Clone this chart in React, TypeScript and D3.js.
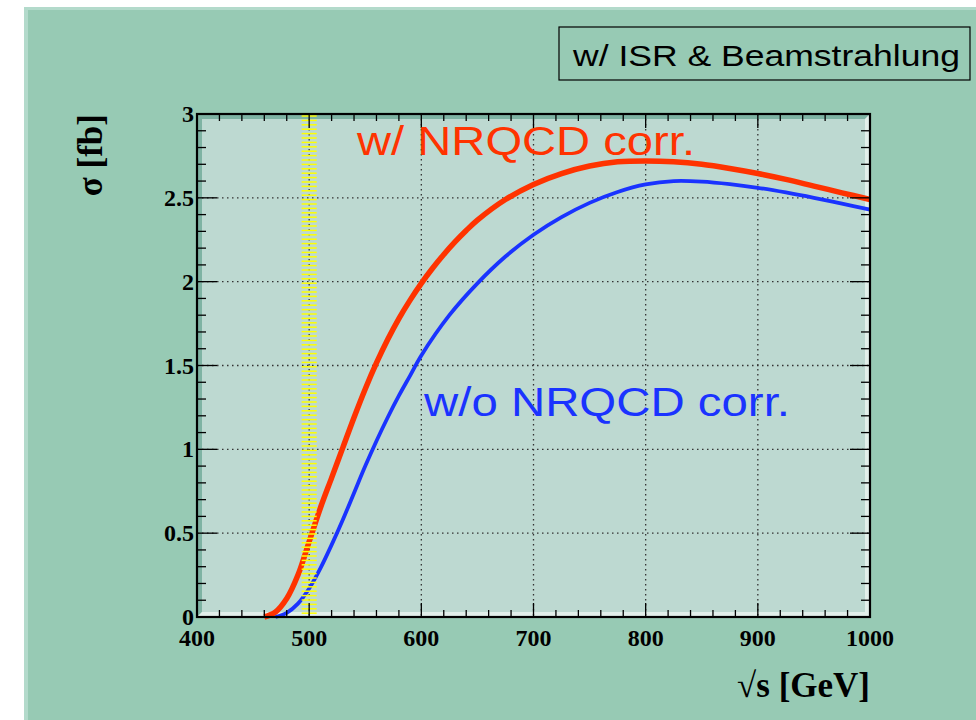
import React from "react";
import * as d3 from "d3";

const redE = [460, 470, 480, 490, 500, 510, 520, 530, 540, 550, 560, 570, 580, 590, 600, 610, 620, 630, 640, 650, 675, 700, 725, 750, 775, 800, 825, 850, 875, 900, 925, 950, 975, 1000];
const redSigma = [0, 0.03, 0.11, 0.25, 0.45, 0.65, 0.83, 1.01, 1.19, 1.36, 1.515, 1.655, 1.78, 1.89, 1.99, 2.08, 2.162, 2.237, 2.305, 2.367, 2.49, 2.58, 2.645, 2.69, 2.715, 2.72, 2.715, 2.7, 2.675, 2.645, 2.61, 2.57, 2.53, 2.49];
const blueE = [470, 480, 490, 500, 510, 520, 530, 540, 550, 560, 570, 580, 590, 600, 625, 650, 675, 700, 725, 750, 775, 800, 825, 850, 875, 900, 925, 950, 975, 1000];
const blueSigma = [0, 0.025, 0.08, 0.17, 0.29, 0.43, 0.58, 0.74, 0.9, 1.05, 1.19, 1.32, 1.44, 1.56, 1.8, 1.99, 2.15, 2.28, 2.385, 2.47, 2.535, 2.58, 2.6, 2.597, 2.582, 2.56, 2.532, 2.5, 2.465, 2.43];
const xMajor = [400, 500, 600, 700, 800, 900, 1000];
const yMajor = [0, 0.5, 1, 1.5, 2, 2.5, 3];
const yMajorLabels = ["0", "0.5", "1", "1.5", "2", "2.5", "3"];
const bandCenter = 500;
const bandHalfWidth = 6.7;

const L = 197, R = 870, T = 114, B = 617;

export default function App() {
  const x = d3.scaleLinear().domain([400, 1000]).range([L, R]);
  const y = d3.scaleLinear().domain([0, 3]).range([B, T]);
  const line = d3.line<[number, number]>().x(d => x(d[0])).y(d => y(d[1])).curve(d3.curveCatmullRom.alpha(0.5));
  const red = line(redE.map((e, i) => [e, redSigma[i]]));
  const blue = line(blueE.map((e, i) => [e, blueSigma[i]]));
  const xMinor = d3.range(400, 1001, 20);
  const yMinor = d3.range(0, 3.001, 0.1);
  const bandLines = d3.range(T + 2, B, 4.4);
  const serif = "'Liberation Serif', 'DejaVu Serif', serif";
  const sans = "'Liberation Sans', Arial, sans-serif";
  const bw = 5;
  return (
    <svg width={976} height={720} style={{ position: "absolute", left: 0, top: 0, background: "#fff" }}>
      <rect x={24} y={7} width={952} height={713} fill="#97cab4" />
      <rect x={24} y={7} width={4} height={713} fill="#b3dacb" />
      <rect x={24} y={7} width={952} height={3} fill="#b3dacb" />
      {/* frame */}
      <rect x={L} y={T} width={R - L} height={B - T} fill="#bdd9d1" />
      <polygon points={`${L},${T} ${R},${T} ${R - bw},${T + bw} ${L + bw},${T + bw} ${L + bw},${B - bw} ${L},${B}`} fill="#7eb3a3" />
      <polygon points={`${R},${T} ${R},${B} ${L},${B} ${L + bw},${B - bw} ${R - bw},${B - bw} ${R - bw},${T + bw}`} fill="#e2efea" />
      {/* grid */}
      {xMajor.slice(1, -1).map(v => (
        <line key={"gx" + v} x1={x(v)} x2={x(v)} y1={T} y2={B} stroke="#333" strokeWidth={1.3} strokeDasharray="1.5,3.5" />
      ))}
      {yMajor.slice(1, -1).map(v => (
        <line key={"gy" + v} x1={L} x2={R} y1={y(v)} y2={y(v)} stroke="#333" strokeWidth={1.3} strokeDasharray="1.5,3.5" />
      ))}
      {/* curves */}
      <path d={red || ""} fill="none" stroke="#ff3300" strokeWidth={5.5} />
      <path d={blue || ""} fill="none" stroke="#1a33ff" strokeWidth={3.8} />
      {/* yellow band */}
      {bandLines.map((v, i) => (
        <line key={"b" + i} x1={x(bandCenter - bandHalfWidth)} x2={x(bandCenter + bandHalfWidth)} y1={v} y2={v} stroke="#ffff00" strokeWidth={1.5} />
      ))}
      {/* ticks */}
      {xMinor.map(v => {
        const len = v % 100 === 0 ? 14 : 7;
        return (
          <g key={"tx" + v}>
            <line x1={x(v)} x2={x(v)} y1={B} y2={B - len} stroke="#000" strokeWidth={1.3} />
            <line x1={x(v)} x2={x(v)} y1={T} y2={T + len} stroke="#000" strokeWidth={1.3} />
          </g>
        );
      })}
      {yMinor.map((v, i) => {
        const len = i % 5 === 0 ? 20 : 9;
        return (
          <g key={"ty" + i}>
            <line x1={L} x2={L + len} y1={y(v)} y2={y(v)} stroke="#000" strokeWidth={1.3} />
            <line x1={R} x2={R - len} y1={y(v)} y2={y(v)} stroke="#000" strokeWidth={1.3} />
          </g>
        );
      })}
      <rect x={L} y={T} width={R - L} height={B - T} fill="none" stroke="#000" strokeWidth={2.2} />
      {/* tick labels */}
      {xMajor.map(v => (
        <text key={"lx" + v} x={x(v)} y={646} textAnchor="middle" fontFamily={serif} fontWeight="bold" fontSize={24}>{v}</text>
      ))}
      {yMajor.map((v, i) => (
        <text key={"ly" + v} x={194} y={y(v) + 8} textAnchor="end" fontFamily={serif} fontWeight="bold" fontSize={24}>{yMajorLabels[i]}</text>
      ))}
      {/* axis titles */}
      <text x={870} y={697} textAnchor="end" fontFamily={serif} fontWeight="bold" fontSize={35}>√s [GeV]</text>
      <text transform="translate(102,114) rotate(-90)" textAnchor="end" fontFamily={serif} fontWeight="bold" fontSize={35}>σ [fb]</text>
      {/* labels */}
      <text x={357} y={155} fontFamily={sans} fontSize={40} fill="#ff3300" textLength={338} lengthAdjust="spacingAndGlyphs">w/ NRQCD corr.</text>
      <text x={424} y={416} fontFamily={sans} fontSize={40} fill="#1a33ff" textLength={366} lengthAdjust="spacingAndGlyphs">w/o NRQCD corr.</text>
      <rect x={559} y={27} width={411} height={53} fill="#97cab4" stroke="#000" strokeWidth={1.2} />
      <text x={573} y={66} fontFamily={sans} fontSize={30} fill="#000" textLength={387} lengthAdjust="spacingAndGlyphs">w/ ISR &amp; Beamstrahlung</text>
    </svg>
  );
}
